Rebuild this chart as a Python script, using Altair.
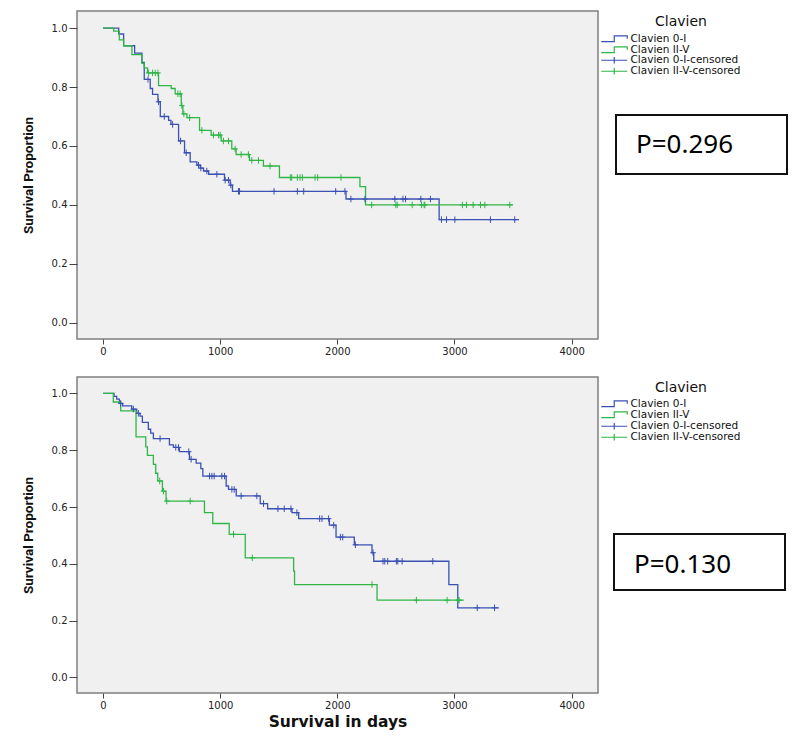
import altair as alt
import pandas as pd

BLUE = "#3b51b3"
GREEN = "#2fb647"

LINE_LABELS = ["Clavien 0-I", "Clavien II-V"]
CENS_LABELS = ["Clavien 0-I-censored", "Clavien II-V-censored"]
COLORS = [BLUE, GREEN]
LEGEND_TITLE = "Clavien"

# ---------------- top panel ----------------
top_a_t = [0, 134, 176, 270, 332, 352, 403, 423, 469, 489, 560, 580, 645, 696, 744, 801, 830, 858, 901,
           1037, 1085, 1105, 2074, 2869]
top_a_s = [1.0, 0.98, 0.94, 0.915, 0.884, 0.826, 0.795, 0.775, 0.75, 0.70, 0.687, 0.673, 0.617, 0.577,
           0.546, 0.535, 0.525, 0.515, 0.504, 0.484, 0.467, 0.446, 0.42, 0.35]
top_a_end = 3551
top_a_cens = [384, 474, 523, 594, 662, 710, 815, 835, 886, 972, 1043, 1071, 1091, 1156, 1165, 1460, 1659,
              1713, 1986, 2065, 2116, 2236, 2491, 2560, 2582, 2713, 2795, 2889, 2932, 3003, 3307, 3514]

top_b_t = [0, 91, 139, 176, 247, 332, 352, 380, 474, 582, 616, 668, 682, 716, 824, 923, 1009, 1099, 1136,
           1250, 1369, 1506, 2193, 2241]
top_b_s = [1.0, 0.99, 0.96, 0.94, 0.91, 0.88, 0.865, 0.848, 0.805, 0.795, 0.777, 0.737, 0.709, 0.696,
           0.653, 0.637, 0.617, 0.59, 0.571, 0.551, 0.532, 0.493, 0.462, 0.40]
top_b_end = 3500
top_b_cens = [389, 423, 446, 469, 639, 659, 673, 690, 739, 844, 943, 986, 1000, 1028, 1071, 1128, 1179,
              1241, 1270, 1327, 1426, 1599, 1611, 1659, 1682, 1702, 1810, 1832, 2031, 2293, 2500, 2511,
              2639, 2719, 2741, 2747, 3068, 3102, 3159, 3222, 3259, 3472]

# ---------------- bottom panel ----------------
bot_a_t = [0, 94, 117, 140, 168, 245, 288, 316, 336, 387, 407, 430, 567, 601, 652, 738, 795, 835, 852,
           1051, 1071, 1137, 1342, 1405, 1613, 1670, 1932, 1989, 2145, 2296, 2311, 2952, 3028]
bot_a_s = [1.0, 0.99, 0.98, 0.965, 0.956, 0.945, 0.93, 0.92, 0.898, 0.874, 0.86, 0.841, 0.819, 0.81,
           0.795, 0.768, 0.755, 0.735, 0.709, 0.674, 0.662, 0.639, 0.612, 0.594, 0.58, 0.559, 0.536,
           0.494, 0.467, 0.439, 0.409, 0.327, 0.245]
bot_a_end = 3379
bot_a_cens = [151, 259, 302, 487, 621, 644, 732, 752, 909, 929, 949, 1014, 1037, 1100, 1120, 1179, 1313,
              1370, 1493, 1547, 1604, 1655, 1849, 1869, 1926, 1969, 2026, 2046, 2154, 2305, 2390, 2405,
              2430, 2504, 2516, 2553, 2815, 3194, 3342]

bot_b_t = [0, 88, 151, 282, 365, 379, 430, 450, 467, 507, 538, 866, 937, 1077, 1214, 1627, 1635, 2339]
bot_b_s = [1.0, 0.97, 0.939, 0.847, 0.812, 0.782, 0.75, 0.719, 0.692, 0.656, 0.621, 0.58, 0.542, 0.504,
           0.421, 0.374, 0.327, 0.272]
bot_b_end = 3080
bot_b_cens = [484, 516, 544, 744, 1114, 1274, 2296, 2675, 2937, 3031, 3040]

P_TEXTS = ["P=0.296", "P=0.130"]


def km_value(times, surv, t):
    v = surv[0]
    for tt, ss in zip(times, surv):
        if tt <= t:
            v = ss
    return v


def build_frames(a_t, a_s, a_end, a_c, b_t, b_s, b_end, b_c):
    rows = []
    for t, s in zip(a_t, a_s):
        rows.append({"t": t, "s": s, "grp": LINE_LABELS[0]})
    rows.append({"t": a_end, "s": a_s[-1], "grp": LINE_LABELS[0]})
    for t, s in zip(b_t, b_s):
        rows.append({"t": t, "s": s, "grp": LINE_LABELS[1]})
    rows.append({"t": b_end, "s": b_s[-1], "grp": LINE_LABELS[1]})
    cens = []
    for t in a_c:
        cens.append({"t": t, "s": km_value(a_t, a_s, t), "cg": CENS_LABELS[0]})
    for t in b_c:
        cens.append({"t": t, "s": km_value(b_t, b_s, t), "cg": CENS_LABELS[1]})
    return pd.DataFrame(rows), pd.DataFrame(cens)


STEP_PATH = "M-3.25,0.7H0V-0.7H3.25V0"
CROSS_PATH = "M-3.25,0H3.25M0,-0.8V0.8"
CENS_MARK_PATH = "M-1.1,0H1.1M0,-1.3V1.3"


def legend(sym, ly, rp):
    return alt.Legend(
        title=None, orient="none", legendX=524, legendY=ly,
        labelFont="DejaVu Sans", labelFontSize=10.5, labelColor="#111",
        symbolType=sym, symbolSize=64, symbolStrokeWidth=1.2, symbolFillColor="transparent",
        symbolOffset=8, labelOffset=11, rowPadding=rp,
    )


def panel(lines, cens, ptext, h, show_xtitle, box, text_pos, leg_y, leg_rp):
    xscale = alt.Scale(domain=[-222, 4225], nice=False, zero=False)
    yscale = alt.Scale(domain=[-0.055, 1.058], nice=False, zero=False)
    xaxis_kw = dict(
        values=[0, 1000, 2000, 3000, 4000], format="d", grid=False, domain=False, tickSize=5,
        tickColor="#444", labelFont="DejaVu Sans", labelFontSize=10, labelColor="#222",
        labelPadding=2,
    )
    if show_xtitle:
        xaxis = alt.Axis(title="Survival in days", titleFont="DejaVu Sans", titleFontSize=15.5,
                         titleFontWeight="bold", titleColor="#111", titlePadding=4, **xaxis_kw)
    else:
        xaxis = alt.Axis(title=None, **xaxis_kw)
    yaxis = alt.Axis(
        values=[0, 0.2, 0.4, 0.6, 0.8, 1.0], format=".1f", grid=False, domain=False, tickSize=8,
        tickColor="#444", labelFont="DejaVu Sans", labelFontSize=10, labelColor="#222",
        labelPadding=2, title="Survival Proportion",
        titleFont="Roboto", titleFontSize=13.5, titleFontWeight="bold", titleColor="#111",
        titlePadding=16,
    )

    line_layer = alt.Chart(lines).mark_line(interpolate="step-after", strokeWidth=1.3).encode(
        x=alt.X("t:Q", scale=xscale, axis=xaxis),
        y=alt.Y("s:Q", scale=yscale, axis=yaxis),
        color=alt.Color("grp:N", scale=alt.Scale(domain=LINE_LABELS, range=COLORS),
                        legend=legend(STEP_PATH, leg_y[0], leg_rp[0])),
        detail="grp:N",
    )
    cens_layer = alt.Chart(cens).mark_point(
        shape=CENS_MARK_PATH, size=25, filled=False, strokeWidth=1, opacity=1
    ).encode(
        x="t:Q", y="s:Q",
        stroke=alt.Stroke("cg:N", scale=alt.Scale(domain=CENS_LABELS, range=COLORS),
                          legend=legend(CROSS_PATH, leg_y[1], leg_rp[1])),
    )

    pdf = pd.DataFrame({"p": [ptext], "title": [LEGEND_TITLE]})
    box_layer = alt.Chart(pdf).mark_rect(fill="white", stroke="#111", strokeWidth=2).encode(
        x=alt.value(box[0]), x2=alt.value(box[1]), y=alt.value(box[2]), y2=alt.value(box[3])
    )
    text_layer = alt.Chart(pdf).mark_text(
        align="left", baseline="middle", font="Noto Sans", fontSize=26, color="#000"
    ).encode(text="p:N", x=alt.value(text_pos[0]), y=alt.value(text_pos[1]))
    title_layer = alt.Chart(pdf).mark_text(
        align="center", baseline="middle", font="DejaVu Sans", fontSize=14, color="#111"
    ).encode(text="title:N", x=alt.value(604), y=alt.value(11))

    return alt.layer(line_layer, cens_layer, box_layer, text_layer, title_layer).properties(
        width=521, height=h)


l1, c1 = build_frames(top_a_t, top_a_s, top_a_end, top_a_cens, top_b_t, top_b_s, top_b_end, top_b_cens)
l2, c2 = build_frames(bot_a_t, bot_a_s, bot_a_end, bot_a_cens, bot_b_t, bot_b_s, bot_b_end, bot_b_cens)

top = panel(l1, c1, P_TEXTS[0], 328, False, (539, 710, 104, 163), (559, 134), (22.5, 44), (0, -3))
bottom = panel(l2, c2, P_TEXTS[1], 316, True, (537, 708, 157, 213), (557, 188), (21.5, 44), (-2, -4))

chart = alt.vconcat(top, bottom, spacing=19).resolve_scale(
    color="independent", stroke="independent"
).resolve_legend(
    color="independent", stroke="independent"
).properties(
    padding={"left": 12, "top": 2, "right": 2, "bottom": 2}, background="white"
).configure_view(
    fill="#f0f0f0", stroke="#7f7f7f", strokeWidth=1.5
).configure_legend(rowPadding=0, padding=0)

chart.save("out.html", embed_options={"renderer": "svg", "actions": False})
